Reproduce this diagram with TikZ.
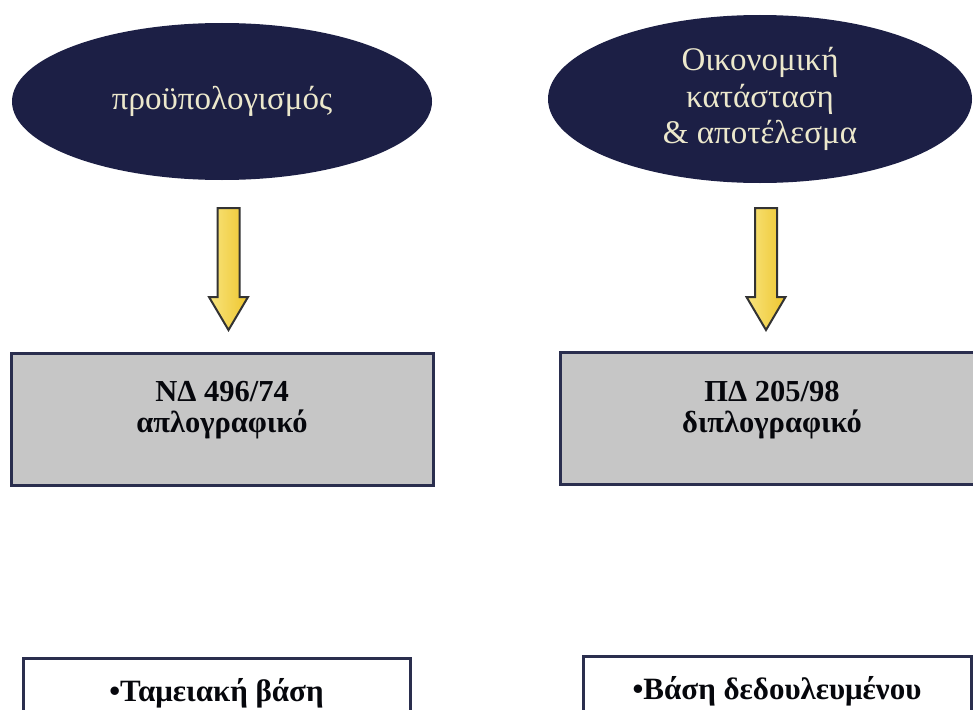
\documentclass[tikz,border=0pt]{standalone}
\usepackage{fontspec}
\setmainfont{Liberation Serif}
\usetikzlibrary{shapes.geometric}
\definecolor{navy}{HTML}{1C1F45}
\definecolor{cream}{HTML}{ECE8CC}
\definecolor{boxgray}{HTML}{C6C6C6}
\definecolor{boxline}{HTML}{2A2E4E}
\definecolor{arrowline}{HTML}{333333}
\definecolor{yellowA}{HTML}{F8E47E}
\definecolor{yellowB}{HTML}{EEC62E}
\tikzset{
  oval/.style={ellipse, fill=navy, draw=none, text=cream, align=center, inner sep=0pt,
    font=\fontsize{33}{36.5}\selectfont},
  graybox/.style={rectangle, fill=boxgray, draw=boxline, line width=3pt, inner sep=0pt},
  boxtext/.style={align=center, inner sep=0pt, anchor=base, text=black!85!boxline,
    font=\fontsize{30.5}{30.5}\selectfont\bfseries},
  whitebox/.style={rectangle, fill=white, draw=boxline, line width=3pt, anchor=north,
    inner xsep=0pt, inner ysep=21pt, text height=22pt, text depth=40pt,
    text=black!85!boxline, font=\fontsize{31}{32}\selectfont\bfseries},
  blockarrow/.pic={
    \shade[left color=yellowA, right color=yellowB, draw=arrowline, line width=2pt, line join=miter]
      (-11,0) -- (11,0) -- (11,89) -- (19.5,89) -- (0,122) -- (-19.5,89) -- (-11,89) -- cycle;
  }
}
\begin{document}
\begin{tikzpicture}[x=1pt, y=-1pt]
\useasboundingbox (0,0) rectangle (973,709);
\fill[white] (0,0) rectangle (973,709);

\node[oval, minimum width=420pt, minimum height=157pt] (e1) at (222,101.5) {προϋπολογισμός};
\node[oval, minimum width=424pt, minimum height=168pt] (e2) at (760,99) {Οικονομική\\κατάσταση\\\& αποτέλεσμα};

\node[graybox, minimum width=422pt, minimum height=132pt] (b1) at (222,419) {};
\node[graybox, minimum width=425pt, minimum height=132pt] (b2) at (772.5,418) {};
\node[boxtext] (t1) at (222,432) {ΝΔ 496/74\\απλογραφικό};
\node[boxtext] (t2) at (772,432) {ΠΔ 205/98\\διπλογραφικό};

\coordinate (a1) at (228.5,208);
\coordinate (a2) at (766,208);
\pic at (a1) {blockarrow};
\pic at (a2) {blockarrow};

\node[whitebox, minimum width=387pt] (c1) at (216.5,657) {•Ταμειακή βάση};
\node[whitebox, minimum width=388pt] (c2) at (777,655) {•Βάση δεδουλευμένου};
\end{tikzpicture}
\end{document}
